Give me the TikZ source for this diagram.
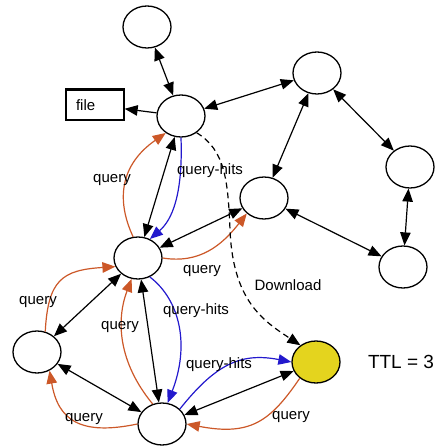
\documentclass[tikz,border=0pt]{standalone}
\usepackage{fontspec}
\setmainfont{Liberation Sans}
\usetikzlibrary{arrows.meta,shapes.geometric}
\definecolor{qorange}{RGB}{204,88,40}
\definecolor{qblue}{RGB}{35,25,205}
\definecolor{qyellow}{RGB}{228,212,30}
\begin{document}
\begin{tikzpicture}[x=1pt,y=-1pt,
  peer/.style={draw, ellipse, line width=1.3pt, minimum width=48pt, minimum height=42pt, inner sep=0pt},
  link/.style={line width=1.2pt, {Triangle[length=13pt,width=10.5pt]}-{Triangle[length=13pt,width=10.5pt]}},
  onelink/.style={line width=1.2pt, -{Triangle[length=13pt,width=10.5pt]}},
  hits/.style={qblue, line width=1.2pt, -{Triangle[length=13pt,width=10.5pt]}},
  qry/.style={qorange, line width=1.2pt, -{Triangle[length=13pt,width=10.5pt]}},
  dl/.style={line width=1.2pt, dash pattern=on 6pt off 4pt, -{Triangle[length=13pt,width=10.5pt]}},
  lbl/.style={font=\fontsize{15}{18}\selectfont, inner sep=0pt}
]
\useasboundingbox (0,0) rectangle (437,446);

\node[peer] (T) at (147,27) {};
\node[peer] (A) at (181,116) {};
\node[peer] (R1) at (317,73) {};
\node[peer] (R2) at (410,167) {};
\node[peer] (M) at (264,198) {};
\node[peer] (R3) at (403,267) {};
\node[peer] (B) at (138,258) {};
\node[peer] (L) at (37,352) {};
\node[peer] (C) at (162,424) {};
\node[peer, fill=qyellow] (Y) at (316,362) {};

\node[draw, line width=1.3pt, rectangle, text width=38pt, inner xsep=10pt, minimum height=30pt, align=left, font=\fontsize{15}{18}\selectfont] (file) at (95,105) {file};
\draw[line width=2.4pt] (file.north west) -- (file.north east);

% black links
\draw[link] (T) -- (A);
\draw[onelink] (A) -- (file);
\draw[link] (A) -- (R1);
\draw[link] (R1) -- (M);
\draw[link] (R1) -- (R2);
\draw[link] (R2) -- (R3);
\draw[link] (M) -- (R3);
\draw[link] (A) -- (B);
\draw[link] (M) -- (B);
\draw[link] (B) -- (L);
\draw[link] (B) -- (C);
\draw[link] (L) -- (C);
\draw[link] (C) -- (Y);

% query-hits (blue)
\draw[hits] (A.270) .. controls (183,195) and (172,220) .. (B.58);
\draw[hits] (B.302) .. controls (180,300) and (190,345) .. (C.75);
\draw[hits] (C.40) .. controls (215,365) and (240,352) .. (Y.180);

% query (orange)
\draw[qry] (B.103) .. controls (116,200) and (120,165) .. (A.228);
\draw[qry] (B.0) .. controls (200,264) and (222,245) .. (M.222);
\draw[qry] (L.68) .. controls (48,280) and (62,270) .. (B.201);
\draw[qry] (C.115) .. controls (118,362) and (116,320) .. (B.253);
\draw[qry] (C.180) .. controls (80,436) and (58,420) .. (L.304);
\draw[qry] (Y.225) .. controls (270,422) and (250,436) .. (C.0);

% download
\draw[dl] (A.313) .. controls (225,150) and (228,180) .. (230,230) .. controls (233,300) and (262,320) .. (Y.133);

% labels
\node[lbl] (l1) at (112,180) {query};
\node[lbl] (l2) at (210,171) {query-hits};
\node[lbl] (l3) at (202,271) {query};
\node[lbl] (l4) at (288,285) {Download};
\node[lbl] (l5) at (38,302) {query};
\node[lbl] (l6) at (120,327) {query};
\node[lbl] (l7) at (196,311) {query-hits};
\node[lbl] (l8) at (219,365) {query-hits};
\node[lbl] (l9) at (84,419) {query};
\node[lbl] (l10) at (291,417) {query};
\node[font=\fontsize{19}{22}\selectfont, inner sep=0pt] (ttl) at (401,362) {TTL = 3};
\end{tikzpicture}
\end{document}
